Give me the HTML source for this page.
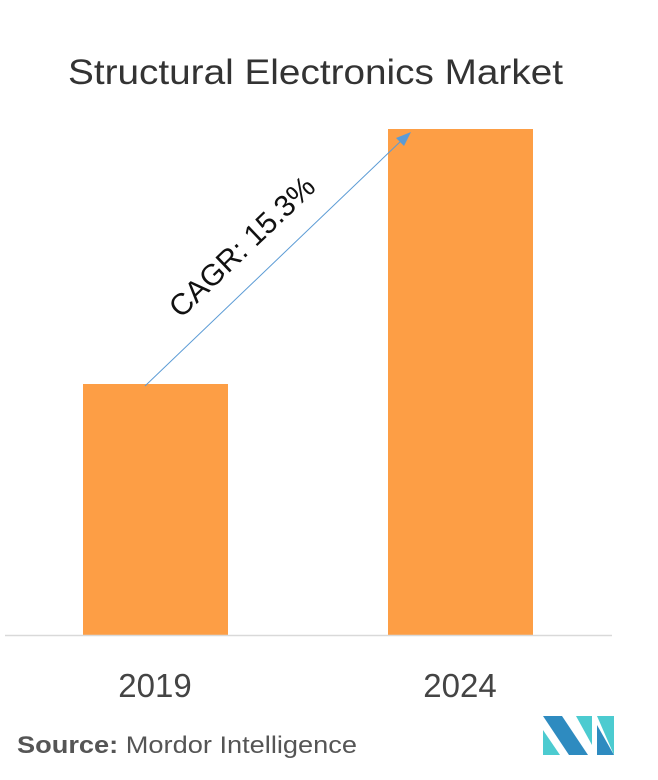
<!DOCTYPE html>
<html><head><style>
body{margin:0;width:658px;height:780px;background:#fff;overflow:hidden}
svg{display:block}
</style></head><body>
<svg width="658" height="780" xmlns="http://www.w3.org/2000/svg" font-family="Liberation Sans, sans-serif">
<text x="68" y="84" textLength="495" lengthAdjust="spacingAndGlyphs" font-size="35" fill="#333">Structural Electronics Market</text>
<rect x="83" y="384" width="145" height="251" fill="#fd9e45"/>
<rect x="388" y="129" width="145" height="506" fill="#fd9e45"/>
<line x1="5" y1="635.5" x2="612" y2="635.5" stroke="#d9d9d9" stroke-width="1.5"/>
<line x1="145" y1="386" x2="402" y2="140" stroke="#5b9bd5" stroke-width="1"/>
<polygon points="411,132 396,138 404,146" fill="#5b9bd5"/>
<text x="0" y="0" transform="translate(249,254) rotate(-43.7)" text-anchor="middle" font-size="30" fill="#111">CAGR: 15.3%</text>
<text x="155" y="697" text-anchor="middle" font-size="33" fill="#444">2019</text>
<text x="460" y="697" text-anchor="middle" font-size="33" fill="#444">2024</text>
<text x="17" y="753" textLength="340" lengthAdjust="spacingAndGlyphs" font-size="24" fill="#555"><tspan font-weight="bold">Source:</tspan> Mordor Intelligence</text>
<g>
<polygon points="543,716 562,716 588,755 569,755" fill="#2e8bc0"/>
<polygon points="543,730 543,755 560,755" fill="#4ccbd0"/>
<polygon points="576,716 592,716 592,745" fill="#4ccbd0"/>
<polygon points="597,716 614,716 614,755" fill="#4ccbd0"/>
<polygon points="597,725 614,755 597,755" fill="#2e8bc0"/>
</g>
</svg>
</body></html>
